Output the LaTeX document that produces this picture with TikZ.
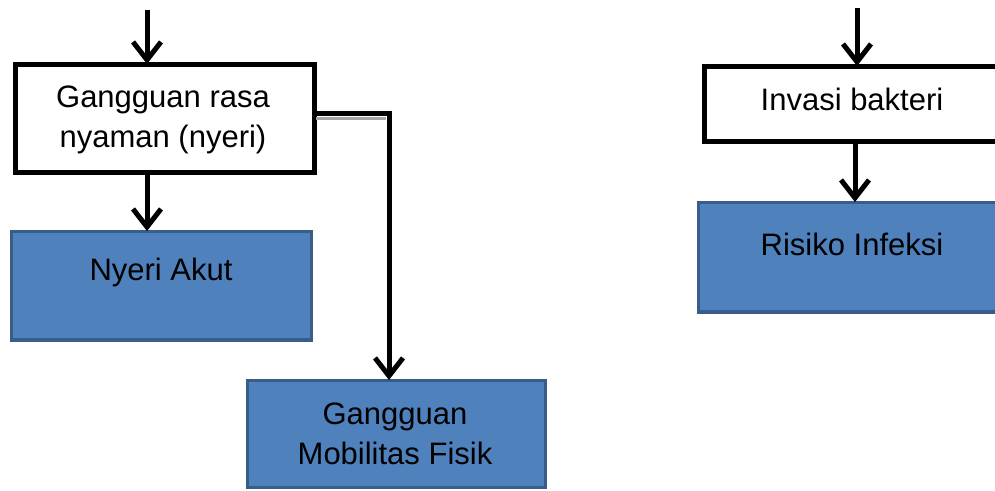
\documentclass[tikz,border=0pt]{standalone}
\usepackage{fontspec}
\setmainfont{Liberation Sans}
\usetikzlibrary{arrows.meta}
\definecolor{boxblue}{HTML}{4F81BD}
\definecolor{boxedge}{HTML}{385D8A}
\tikzset{
  conn/.style={line width=5pt,-{Straight Barb[length=18pt,width=28pt,line width=5pt]}},
  lbl/.style={font=\fontsize{31}{40}\selectfont,align=center,inner sep=0pt}
}
\begin{document}
\begin{tikzpicture}[x=1pt,y=-1pt]
\clip (0,0) rectangle (995,490);
\fill[white] (0,0) rectangle (995,490);
% boxes
\draw[line width=5pt,fill=white] (15,64) rectangle (314,172);
\node[lbl] (b1) at (163,120) {Gangguan rasa\\nyaman (nyeri)};
\coordinate (b1top) at (147,64);
\coordinate (b1bot) at (147,172);
\coordinate (b1right) at (314,113);

\draw[line width=3.5pt,draw=boxedge,fill=boxblue] (11.5,231.5) rectangle (311.5,340);
\node[lbl] (b2) at (161,272) {Nyeri Akut};
\coordinate (b2top) at (147,231);

\draw[line width=3.5pt,draw=boxedge,fill=boxblue] (247.5,380.5) rectangle (545.5,487.5);
\node[lbl] (b3) at (395,434) {Gangguan\\Mobilitas Fisik};
\coordinate (b3top) at (389,380);

\draw[line width=5pt,fill=white] (704,66) rectangle (1010,141);
\node[lbl] (b4) at (852,99) {Invasi bakteri};
\coordinate (b4top) at (857,66);
\coordinate (b4bot) at (855,141);

\draw[line width=3.5pt,draw=boxedge,fill=boxblue] (698.5,202.5) rectangle (1010,312);
\node[lbl] (b5) at (852,244) {Risiko Infeksi};
\coordinate (b5top) at (855,202);

% free ends
\coordinate (in1) at (147,10);
\coordinate (in4) at (857,8);

% connectors
\draw[conn] (in1) -- (b1top);
\draw[conn] (b1bot) -- (b2top);
\draw[line width=3pt,gray!70] (316,118) -- (386,118);
\draw[conn] (b1right) -| (b3top);
\draw[conn] (in4) -- (b4top);
\draw[conn] (b4bot) -- (b5top);
\end{tikzpicture}
\end{document}
